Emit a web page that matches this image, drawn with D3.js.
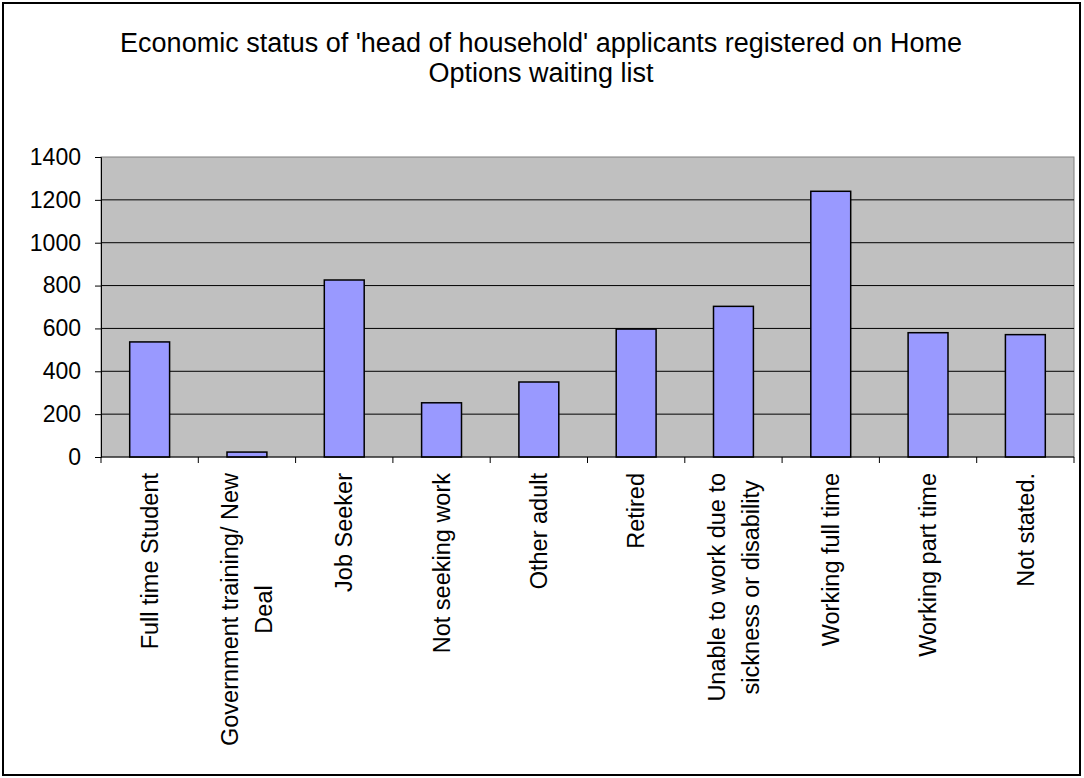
<!DOCTYPE html>
<html>
<head>
<meta charset="utf-8">
<script src="https://cdn.jsdelivr.net/npm/d3@7"></script>
<style>
  body { margin: 0; background: #fff; }
  text { font-family: "Liberation Sans", Arial, sans-serif; fill: #000; }
</style>
</head>
<body>
<div id="chart"></div>
<script>
// chart data
const categories = [
  ["Full time Student"],
  ["Government training/ New", "Deal"],
  ["Job Seeker"],
  ["Not seeking work"],
  ["Other adult"],
  ["Retired"],
  ["Unable to work due to", "sickness or disability"],
  ["Working full time"],
  ["Working part time"],
  ["Not stated."]
];
const counts = [537, 23, 826, 253, 350, 597, 703, 1240, 580, 571];
const yTicks = [0, 200, 400, 600, 800, 1000, 1200, 1400];
const titleLines = [
  "Economic status of 'head of household' applicants registered on Home",
  "Options waiting list"
];

const width = 1084;
const height = 778;
const plot = {left: 101, right: 1074, top: 157, bottom: 457};

const svg = d3.select("#chart")
  .append("svg")
  .attr("width", width)
  .attr("height", height);

// outer frame
svg.append("rect")
  .attr("x", 3).attr("y", 3)
  .attr("width", 1077).attr("height", 772)
  .attr("fill", "#fff")
  .attr("stroke", "#000")
  .attr("stroke-width", 2);

// title
svg.append("g").selectAll("text")
  .data(titleLines)
  .enter()
  .append("text")
  .attr("x", 541)
  .attr("y", (d, i) => 52 + i * 30)
  .attr("text-anchor", "middle")
  .attr("font-size", "27px")
  .text(d => d);

const keys = d3.range(categories.length);

// one band per category (for ticks) and a narrower one for the bars
const xScale = d3.scaleBand()
  .domain(keys)
  .range([plot.left, plot.right]);

const xBar = d3.scaleBand()
  .domain(keys)
  .range([plot.left, plot.right])
  .paddingInner(0.59)
  .paddingOuter(0.295);

const yScale = d3.scaleLinear()
  .domain([0, 1400])
  .range([plot.bottom, plot.top]);

// plot background
svg.append("rect")
  .attr("x", plot.left).attr("y", plot.top)
  .attr("width", plot.right - plot.left)
  .attr("height", plot.bottom - plot.top)
  .attr("fill", "#c0c0c0")
  .attr("stroke", "#808080")
  .attr("stroke-width", 1);

// gridlines
svg.append("g").selectAll("line")
  .data(yTicks.filter(t => t > 0 && t < 1400))
  .enter()
  .append("line")
  .attr("x1", plot.left).attr("x2", plot.right)
  .attr("y1", d => yScale(d)).attr("y2", d => yScale(d))
  .attr("stroke", "#000")
  .attr("stroke-width", 1);

// bars
svg.selectAll(".bar")
  .data(counts)
  .enter()
  .append("rect")
  .attr("class", "bar")
  .attr("x", (d, i) => xBar(i))
  .attr("y", d => yScale(d))
  .attr("width", xBar.bandwidth())
  .attr("height", d => plot.bottom - yScale(d))
  .attr("fill", "#9999ff")
  .attr("stroke", "#000")
  .attr("stroke-width", 1.5);

// y axis
const yAxis = svg.append("g")
  .attr("transform", `translate(${plot.left},0)`)
  .call(d3.axisLeft(yScale).tickValues(yTicks).tickFormat(d3.format("d")).tickSize(6).tickPadding(14));
yAxis.selectAll("text").attr("font-size", "23px").style("font-family", "Liberation Sans, Arial, sans-serif");
yAxis.selectAll("line, path").attr("stroke", "#000");

// x axis line and boundary ticks
svg.append("line")
  .attr("x1", plot.left).attr("x2", plot.right)
  .attr("y1", plot.bottom).attr("y2", plot.bottom)
  .attr("stroke", "#000");

svg.append("g").selectAll("line")
  .data(keys.concat([keys.length]))
  .enter()
  .append("line")
  .attr("x1", d => d < keys.length ? xScale(d) : plot.right)
  .attr("x2", d => d < keys.length ? xScale(d) : plot.right)
  .attr("y1", plot.bottom).attr("y2", plot.bottom + 6)
  .attr("stroke", "#000");

// rotated category labels, lines centred on the longest one
const labels = svg.append("g").selectAll("g")
  .data(categories)
  .enter()
  .append("g")
  .attr("transform", (d, i) => `translate(${xScale(i) + xScale.bandwidth() / 2},473) rotate(-90)`);

labels.selectAll("text")
  .data(d => d.map((line, j) => ({line, j, n: d.length})))
  .enter()
  .append("text")
  .attr("y", d => (d.j - (d.n - 1) / 2) * 34)
  .attr("dy", "0.35em")
  .attr("text-anchor", "middle")
  .attr("font-size", "23.5px")
  .text(d => d.line);

labels.each(function() {
  const texts = d3.select(this).selectAll("text");
  let maxLen = 0;
  texts.each(function() { maxLen = Math.max(maxLen, this.getComputedTextLength()); });
  texts.attr("x", -maxLen / 2);
});
</script>
</body>
</html>
